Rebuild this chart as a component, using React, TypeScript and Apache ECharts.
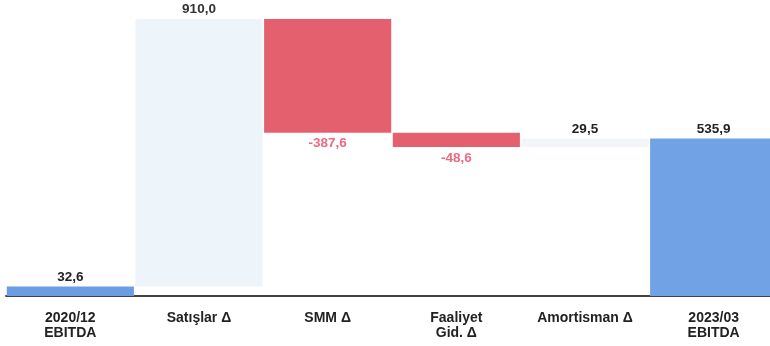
import React, { useEffect, useRef } from "react";
import * as echarts from "echarts";

const categories = ["2020/12\nEBITDA", "Satışlar Δ", "SMM Δ", "Faaliyet\nGid. Δ", "Amortisman Δ", "2023/03\nEBITDA"];
const deltas = [32.6, 910.0, -387.6, -48.6, 29.5, 535.9];
const isTotal = [true, false, false, false, false, true];
const barColors = ["#6b9de2", "#edf4fa", "#e5606f", "#e5606f", "#f2f6fa", "#72a2e6"];
const labelColors = ["#222", "#333", "#ec6a80", "#ec6a80", "#222", "#222"];

export default function App() {
  const ref = useRef<HTMLDivElement>(null);
  useEffect(() => {
    if (!ref.current) return;
    const chart = echarts.init(ref.current, undefined, { renderer: "svg" });
    const base: number[] = [];
    const vals: any[] = [];
    let run = 0;
    deltas.forEach((d, i) => {
      let lo: number, hi: number;
      if (isTotal[i]) {
        lo = 0;
        hi = d;
        run = d;
      } else {
        const next = run + d;
        lo = Math.min(run, next);
        hi = Math.max(run, next);
        run = next;
      }
      base.push(lo);
      vals.push({
        value: hi - lo,
        itemStyle: { color: barColors[i] },
        label: {
          position: d < 0 ? "bottom" : "top",
          color: labelColors[i],
          formatter: () => d.toFixed(1).replace(".", ","),
        },
      });
    });
    chart.setOption({
      animation: false,
      grid: { left: 6, top: 2, width: 772, height: 294 },
      xAxis: {
        type: "category",
        data: categories,
        axisLine: { lineStyle: { color: "#444", width: 2 } },
        axisTick: { show: false },
        axisLabel: {
          interval: 0,
          margin: 13,
          fontSize: 14,
          lineHeight: 15,
          fontWeight: "bold",
          color: "#222",
          fontFamily: "Liberation Sans, Arial, sans-serif",
        },
      },
      yAxis: { type: "value", min: 0, max: 1000, show: false, splitLine: { show: false } },
      series: [
        {
          type: "bar",
          stack: "w",
          data: base,
          itemStyle: { color: "transparent" },
          barCategoryGap: "1.2%",
          silent: true,
        },
        {
          type: "bar",
          stack: "w",
          data: vals,
          barCategoryGap: "1.2%",
          label: {
            show: true,
            distance: 3,
            fontSize: 13.5,
            fontWeight: "bold",
            fontFamily: "Liberation Sans, Arial, sans-serif",
          },
        },
      ],
    });
    return () => chart.dispose();
  }, []);
  return <div ref={ref} style={{ position: "fixed", left: 0, top: 0, width: 782, height: 346 }} />;
}
